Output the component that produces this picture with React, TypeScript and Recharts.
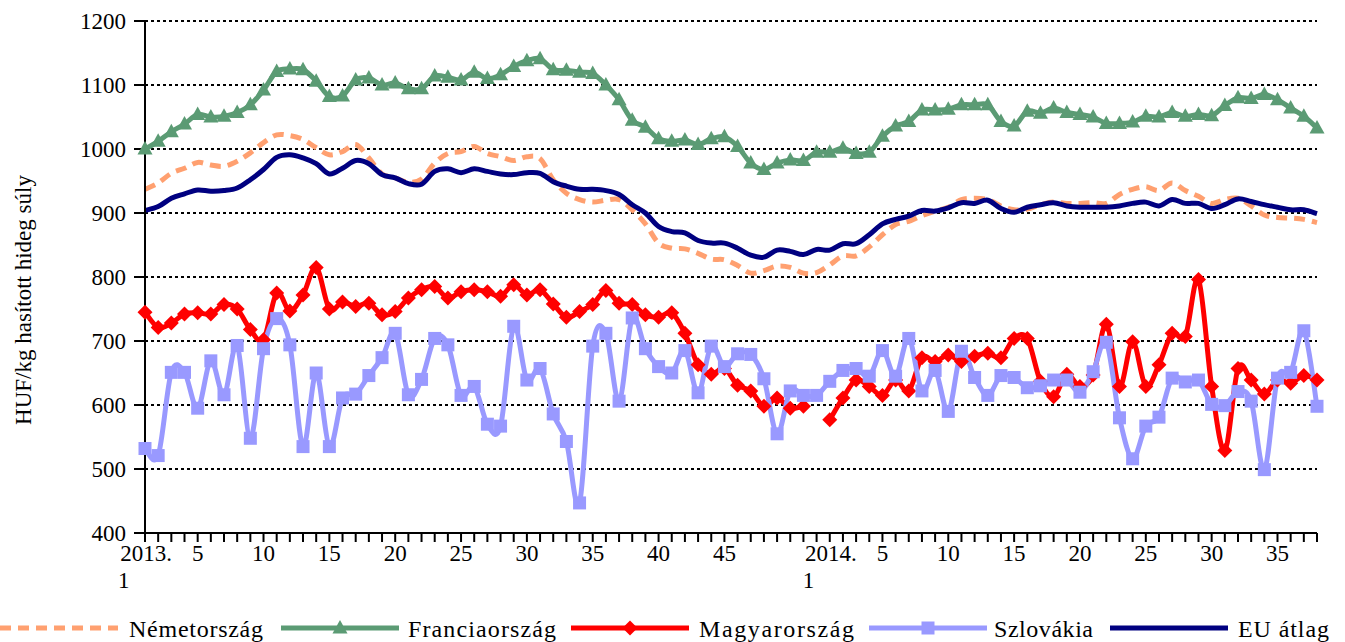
import React from "react";
import { LineChart, Line, XAxis, YAxis, CartesianGrid } from "recharts";

// 2013. hét 1–52, 2014. hét 1–38
const weeks = [
  "2013. 1", "2", "3", "4", "5", "6", "7", "8", "9", "10", "11", "12", "13", "14", "15", "16", "17", "18",
  "19", "20", "21", "22", "23", "24", "25", "26", "27", "28", "29", "30", "31", "32", "33", "34", "35", "36",
  "37", "38", "39", "40", "41", "42", "43", "44", "45", "46", "47", "48", "49", "50", "51", "52",
  "2014. 1", "2", "3", "4", "5", "6", "7", "8", "9", "10", "11", "12", "13", "14", "15", "16", "17", "18",
  "19", "20", "21", "22", "23", "24", "25", "26", "27", "28", "29", "30", "31", "32", "33", "34", "35", "36",
  "37", "38",
];

// feliratozott hetek az x tengelyen (a 2013. 50. hét nem)
const shownWeeks = ["2013. 1", "5", "10", "15", "20", "25", "30", "35", "40", "45", "2014. 1"];

const nemetorszag = [
  937, 947, 962, 970, 979, 975, 973, 981, 994, 1010, 1022, 1021, 1015, 1002, 991, 996, 1007, 986, 961, 955, 948, 953,
  978, 993, 996, 1004, 993, 988, 982, 988, 985, 952, 931, 921, 917, 920, 921, 905, 883, 853, 845, 844, 837, 828, 827, 818, 806,
  810, 817, 815, 806, 807, 819, 833, 833, 847, 866, 882, 887, 896, 903, 909, 921, 923, 921, 911, 905, 906, 913, 917, 915,
  915, 916, 915, 929, 937, 941, 935, 947, 935, 926, 915, 921, 923, 911, 897, 893, 892, 890, 885,
];

const franciaorszag = [
  1000, 1012, 1027, 1039, 1054, 1050, 1051, 1057, 1069, 1092, 1121, 1125, 1124, 1106, 1082, 1083, 1108, 1111, 1100, 1103, 1094, 1094,
  1114, 1112, 1108, 1120, 1110, 1116, 1129, 1138, 1141, 1124, 1123, 1120, 1118, 1100, 1077, 1045, 1034, 1016, 1012, 1014, 1007, 1016, 1019, 1004, 978,
  968, 978, 983, 982, 995, 995, 1001, 993, 995, 1020, 1036, 1043, 1061, 1061, 1062, 1069, 1069, 1069, 1043, 1036, 1059,
  1056, 1064, 1057, 1054, 1050, 1040, 1040, 1042, 1051, 1050, 1057, 1051, 1054, 1052, 1068, 1080, 1079, 1085, 1077, 1064, 1051, 1033,
];

const magyarorszag = [
  745, 721, 728, 742, 744, 742, 757, 750, 718, 702, 775, 747, 772, 815, 750, 761, 754, 759, 741, 746, 767, 780,
  785, 767, 777, 780, 777, 770, 788, 772, 780, 758, 737, 746, 757, 779, 759, 757, 741, 737, 744, 712,
  663, 648, 657, 631, 622, 598, 611, 595, 598, null,
  577, 611, 639, 629, 615, 639, 622, 674, 668, 678, 668, 676, 681, 674, 704, 704, 637, 613, 648, 629,
  647, 726, 629, 699, 629, 663, 712, 707, 796, 629, 529, 657, 639, 617, 639, 634, 646, 639,
];

const szlovakia = [
  532, 521, 651, 651, 595, 669, 616, 693, 548, 688, 735, 694, 535, 650, 535, 611, 617, 646, 674, 712, 616, 640,
  704, 694, 615, 629, 570, 567, 723, 639, 657, 586, 543, 447, 692, 712, 606, 736, 688, 660, 650, 685, 619, 692, 660, 680, 679,
  641, 555, 622, 615, 615, 637, 654, 657, 645, 685, 645, 704, 622, 654, 590, 684, 643, 615, 646, 643, 627,
  630, 639, 639, 620, 652, 698, 580, 516, 567, 581, 642, 636, 639, 601, 599, 621, 606, 499, 642, 651, 716, 598,
];

const euAtlag = [
  904, 910, 923, 930, 936, 934, 935, 939, 952, 968, 987, 991, 986, 977, 961, 970, 982, 977, 960, 955, 946, 945,
  965, 969, 963, 969, 965, 961, 960, 963, 962, 949, 942, 937, 937, 935, 929, 913, 900, 879, 871, 869, 857, 853, 853, 845, 834,
  831, 842, 840, 835, 843, 842, 852, 852, 866, 883, 890, 895, 904, 903, 908, 916, 915, 920, 907, 901, 909, 913, 916, 911,
  909, 909, 909, 911, 915, 917, 911, 921, 915, 915, 907, 913, 922, 918, 913, 909, 905, 905, 899,
];

const yTicks = [400, 500, 600, 700, 800, 900, 1000, 1100, 1200];

const data = weeks.map((week, i) => ({
  week,
  nemet: nemetorszag[i],
  francia: franciaorszag[i],
  magyar: magyarorszag[i],
  szlovak: szlovakia[i],
  eu: euAtlag[i],
}));

const ORANGE = "#FFA070";
const GREEN = "#5B9B74";
const RED = "#FF0000";
const LAVENDER = "#9999FF";
const NAVY = "#000080";
const serif = '"Times New Roman", "Liberation Serif", serif';

// Excel-féle simított vonal (Catmull-Rom)
function smooth(context: any) {
  let pts: number[][] = [];
  return {
    areaStart() {},
    areaEnd() {},
    lineStart() {
      pts = [];
    },
    lineEnd() {
      const n = pts.length;
      if (!n) return;
      context.moveTo(pts[0][0], pts[0][1]);
      for (let i = 0; i < n - 1; i++) {
        const p0 = pts[i > 0 ? i - 1 : i];
        const p1 = pts[i];
        const p2 = pts[i + 1];
        const p3 = pts[i + 2 < n ? i + 2 : i + 1];
        context.bezierCurveTo(
          p1[0] + (p2[0] - p0[0]) / 6,
          p1[1] + (p2[1] - p0[1]) / 6,
          p2[0] - (p3[0] - p1[0]) / 6,
          p2[1] - (p3[1] - p1[1]) / 6,
          p2[0],
          p2[1]
        );
      }
    },
    point(x: number, y: number) {
      pts.push([+x, +y]);
    },
  };
}

const triangle = (cx: number, cy: number, color: string) => (
  <polygon points={`${cx},${cy - 8} ${cx - 7.5},${cy + 5.5} ${cx + 7.5},${cy + 5.5}`} fill={color} />
);
const diamond = (cx: number, cy: number, color: string) => (
  <polygon points={`${cx},${cy - 7.5} ${cx + 7.5},${cy} ${cx},${cy + 7.5} ${cx - 7.5},${cy}`} fill={color} />
);
const square = (cx: number, cy: number, color: string) => (
  <rect x={cx - 6.5} y={cy - 6.5} width={13} height={13} fill={color} />
);

const makeDot = (shape: typeof triangle, color: string) => (p: any) => {
  if (p.cx == null || p.cy == null || p.value == null) return <g key={p.index} />;
  return <g key={p.index}>{shape(p.cx, p.cy, color)}</g>;
};

const WeekTick = (props: any) => {
  const { x, y, payload } = props;
  const label: string = payload.value;
  if (!shownWeeks.includes(label)) return null;
  const parts = label.split(" ");
  const base = y + 19;
  if (parts.length === 2) {
    return (
      <g>
        <text x={x + 1} y={base} textAnchor="middle" fontSize={23} fontFamily={serif} fill="#000">
          {parts[0]}
        </text>
        <text x={x - 27} y={base + 27} textAnchor="start" fontSize={23} fontFamily={serif} fill="#000">
          {parts[1]}
        </text>
      </g>
    );
  }
  return (
    <text x={x} y={base} textAnchor="middle" fontSize={23} fontFamily={serif} fill="#000">
      {label}
    </text>
  );
};

const YLabel = (props: any) => {
  const vb = props.viewBox || { x: 0, y: 21, width: 145, height: 512 };
  const cx = vb.x + 23;
  const cy = vb.y + vb.height / 2 + 23;
  return (
    <text
      x={cx}
      y={cy}
      transform={`rotate(-90, ${cx}, ${cy})`}
      textAnchor="middle"
      dominantBaseline="central"
      fontSize={23}
      fontFamily={serif}
      fill="#000"
    >
      HUF/kg hasított hideg súly
    </text>
  );
};

const legendItems = [
  { name: "Németország", color: ORANGE, dash: "11 7", marker: null, iconX: 0, textX: 129, textW: 134 },
  { name: "Franciaország", color: GREEN, dash: undefined, marker: triangle, iconX: 281, textX: 408, textW: 148 },
  { name: "Magyarország", color: RED, dash: undefined, marker: diamond, iconX: 571, textX: 699, textW: 155 },
  { name: "Szlovákia", color: LAVENDER, dash: undefined, marker: square, iconX: 869, textX: 994, textW: 99 },
  { name: "EU átlag", color: NAVY, dash: undefined, marker: null, iconX: 1110, textX: 1238, textW: 91 },
];

function ChartLegend() {
  return (
    <svg width={1345} height={30} style={{ position: "absolute", left: 0, top: 612 }}>
      {legendItems.map((it) => (
        <g key={it.name}>
          <line
            x1={it.iconX}
            x2={it.iconX + 118}
            y1={16}
            y2={16}
            stroke={it.color}
            strokeWidth={5}
            strokeDasharray={it.dash}
          />
          {it.marker && it.marker(it.iconX + 59, 16, it.color)}
          <text
            x={it.textX}
            y={25}
            fontSize={24}
            fontFamily={serif}
            fill="#000"
            textLength={it.textW}
            lengthAdjust="spacing"
          >
            {it.name}
          </text>
        </g>
      ))}
    </svg>
  );
}

export default function App() {
  return (
    <div style={{ position: "absolute", left: 0, top: 0, width: 1345, height: 642, background: "#fff" }}>
      <LineChart width={1345} height={642} data={data} margin={{ top: 21, right: 28, left: 0, bottom: 49 }}>
        <CartesianGrid vertical={false} stroke="#000" strokeWidth={2} strokeDasharray="3 3" />
        <XAxis
          dataKey="week"
          interval={0}
          height={60}
          tickSize={9}
          tickMargin={0}
          axisLine={{ stroke: "#000", strokeWidth: 2 }}
          tickLine={{ stroke: "#000", strokeWidth: 2 }}
          tick={<WeekTick />}
        />
        <YAxis
          width={145}
          domain={[400, 1200]}
          ticks={yTicks}
          interval={0}
          tickSize={11}
          tickMargin={8}
          axisLine={{ stroke: "#000", strokeWidth: 2 }}
          tickLine={{ stroke: "#000", strokeWidth: 2 }}
          tick={{ fontSize: 23, fontFamily: serif, fill: "#000" }}
          label={<YLabel />}
        />
        <Line
          dataKey="nemet"
          type={smooth as any}
          stroke={ORANGE}
          strokeWidth={5}
          strokeDasharray="11 7"
          dot={false}
          isAnimationActive={false}
        />
        <Line
          dataKey="francia"
          type={smooth as any}
          stroke={GREEN}
          strokeWidth={5}
          dot={makeDot(triangle, GREEN)}
          isAnimationActive={false}
        />
        <Line
          dataKey="magyar"
          type={smooth as any}
          stroke={RED}
          strokeWidth={5}
          dot={makeDot(diamond, RED)}
          isAnimationActive={false}
        />
        <Line
          dataKey="szlovak"
          type={smooth as any}
          stroke={LAVENDER}
          strokeWidth={5}
          dot={makeDot(square, LAVENDER)}
          isAnimationActive={false}
        />
        <Line
          dataKey="eu"
          type={smooth as any}
          stroke={NAVY}
          strokeWidth={5}
          dot={false}
          isAnimationActive={false}
        />
      </LineChart>
      <ChartLegend />
    </div>
  );
}
